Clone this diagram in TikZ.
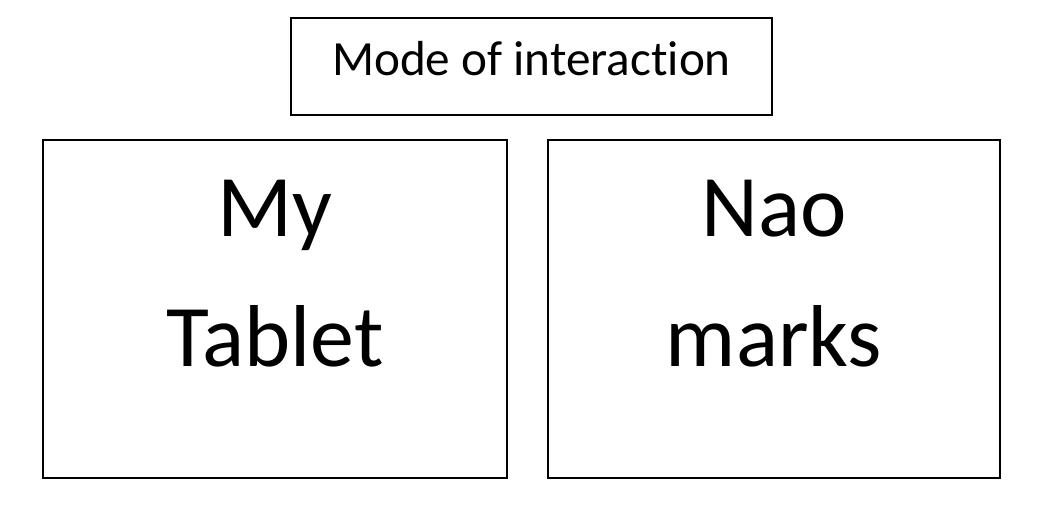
\documentclass[tikz,border=0pt]{standalone}
\usepackage{fontspec}
\setmainfont{Carlito}[Ligatures=NoCommon]

\begin{document}
\begin{tikzpicture}[
  box/.style={draw, line width=1.1pt, inner sep=0pt},
  smalltext/.style={font=\fontsize{28}{34}\selectfont, inner sep=0pt},
  bigtext/.style={font=\fontsize{50}{60}\selectfont, inner sep=0pt}]
\useasboundingbox (0,0) rectangle (20.9,-10.1);

\node[box, minimum width=9.62cm, minimum height=1.94cm] (mode) at (10.63,-1.33) {};
\node[box, minimum width=9.28cm, minimum height=6.76cm] (tablet) at (5.5,-6.18) {};
\node[box, minimum width=9.04cm, minimum height=6.76cm] (nao) at (15.48,-6.18) {};

\node[smalltext, anchor=base] (modetext) at ([yshift=-1.16cm]mode.north) {Mode of interaction};

\node[bigtext, anchor=base] (my) at ([yshift=-1.94cm]tablet.north) {My};
\node[bigtext, anchor=base] (tab) at ([yshift=-4.54cm]tablet.north) {Tablet};

\node[bigtext, anchor=base] (naotext) at ([yshift=-1.94cm]nao.north) {Nao};
\node[bigtext, anchor=base] (marks) at ([yshift=-4.54cm]nao.north) {marks};
\end{tikzpicture}
\end{document}
